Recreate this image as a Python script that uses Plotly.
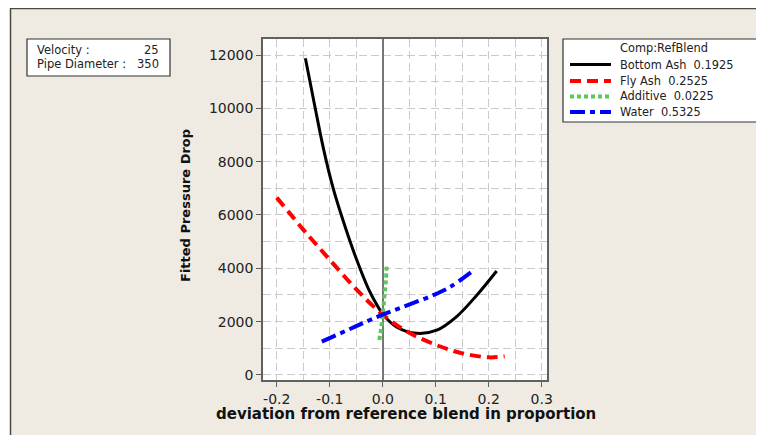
import plotly.graph_objects as go

# ---- data ----
bottom_ash_x = [-0.146, -0.128, -0.112, -0.093, -0.071, -0.049, -0.027, -0.012, 0.0, 0.026, 0.064, 0.102, 0.140, 0.177, 0.215]
bottom_ash_y = [11880, 10060, 8500, 6960, 5560, 4310, 3230, 2660, 2280, 1800, 1560, 1680, 2200, 2980, 3900]

fly_ash_x = [-0.20, -0.175, -0.15, -0.128, -0.10, -0.055, 0.0, 0.05, 0.10, 0.127, 0.15, 0.20, 0.23]
fly_ash_y = [6650, 6050, 5450, 4950, 4320, 3320, 2260, 1580, 1130, 940, 810, 660, 700]

additive_x = [-0.0065, -0.003, 0.0, 0.003, 0.006, 0.0075]
additive_y = [1310, 1750, 2280, 2900, 3550, 4180]

water_x = [-0.115, -0.05, -0.024, 0.0, 0.039, 0.089, 0.127, 0.168]
water_y = [1250, 1830, 2060, 2260, 2560, 2940, 3300, 3870]

series_names = ["Bottom Ash  0.1925", "Fly Ash  0.2525", "Additive  0.0225", "Water  0.5325"]
series_colors = ["#000000", "#FF0000", "#5CC85C", "#0000FF"]
series_dash = ["solid", "11px,6px", "4px,3px", "15px,5px,5px,5px"]
series_width = [3, 4, 4, 4]

x_ticks = [-0.2, -0.1, 0.0, 0.1, 0.2, 0.3]
x_ticklabels = ["-0.2", "-0.1", "0.0", "0.1", "0.2", "0.3"]
y_ticks = [0, 2000, 4000, 6000, 8000, 10000, 12000]

info_labels = ["Velocity :", "Pipe Diameter :"]
info_values = ["25", "350"]
legend_title = "Comp:RefBlend"

# ---- layout geometry (pixels, page coords minus 8px body margin) ----
OFF = 8
W, H = 764 - OFF, 435 - OFF
L, R, T, B = 263 - OFF, 547 - OFF, 39 - OFF, 380 - OFF
FONT = "DejaVu Sans"


def px(xp):
    # page x -> paper fraction
    return (xp - OFF - L) / (R - L)


def py(yp):
    # page y -> paper fraction
    return (B - (yp - OFF)) / (B - T)


fig = go.Figure()
xs = [bottom_ash_x, fly_ash_x, additive_x, water_x]
ys = [bottom_ash_y, fly_ash_y, additive_y, water_y]
for i in range(4):
    fig.add_trace(go.Scatter(
        x=xs[i], y=ys[i], mode="lines", name=series_names[i],
        line=dict(color=series_colors[i], width=series_width[i], dash=series_dash[i], shape="spline", smoothing=1.0),
        showlegend=False, hoverinfo="skip"))

shapes = []
# beige outer panel with border on left/top
shapes.append(dict(type="rect", xref="paper", yref="paper", x0=px(10.5), x1=px(800), y0=py(480), y1=py(8.5),
                   fillcolor="#EFEBE3", line=dict(color="#4a4a40", width=1.5), layer="below"))
# white plot area
shapes.append(dict(type="rect", xref="paper", yref="paper", x0=0, x1=1, y0=0, y1=1,
                   fillcolor="white", line=dict(width=0), layer="below"))
# info box
shapes.append(dict(type="rect", xref="paper", yref="paper", x0=px(27), x1=px(170), y0=py(76), y1=py(39),
                   fillcolor="white", line=dict(color="#333333", width=1.2)))
# legend box
shapes.append(dict(type="rect", xref="paper", yref="paper", x0=px(563), x1=px(759), y0=py(122), y1=py(39),
                   fillcolor="white", line=dict(color="#333333", width=1.2)))
row_y = [64.5, 81, 96.5, 112]
for i in range(4):
    shapes.append(dict(type="line", xref="paper", yref="paper", x0=px(570), x1=px(611), y0=py(row_y[i]), y1=py(row_y[i]),
                       line=dict(color=series_colors[i], width=series_width[i], dash=series_dash[i])))

annotations = []
LF = 11.4
annotations.append(dict(text=legend_title, xref="paper", yref="paper", x=px(618), y=py(48.5), xanchor="left",
                        yanchor="middle", showarrow=False, font=dict(family=FONT, size=LF, color="#222")))
for i in range(4):
    annotations.append(dict(text=series_names[i].replace("  ", "&nbsp;&nbsp;"), xref="paper", yref="paper", x=px(618), y=py(row_y[i]),
                            xanchor="left", yanchor="middle", showarrow=False, font=dict(family=FONT, size=LF, color="#222")))
info_y = [50, 63.5]
for i in range(2):
    annotations.append(dict(text=info_labels[i], xref="paper", yref="paper", x=px(35), y=py(info_y[i]), xanchor="left",
                            yanchor="middle", showarrow=False, font=dict(family=FONT, size=11.5, color="#222")))
    annotations.append(dict(text=info_values[i], xref="paper", yref="paper", x=px(161), y=py(info_y[i]), xanchor="right",
                            yanchor="middle", showarrow=False, font=dict(family=FONT, size=11.5, color="#222")))
# axis titles
annotations.append(dict(text="<b>deviation from reference blend in proportion</b>", xref="paper", yref="paper",
                        x=px(405.5), y=py(414), xanchor="center", yanchor="middle", showarrow=False,
                        font=dict(family=FONT, size=15, color="#111")))
annotations.append(dict(text="<b>Fitted Pressure Drop</b>", xref="paper", yref="paper", textangle=-90,
                        x=px(185), y=py(206), xanchor="center", yanchor="middle", showarrow=False,
                        font=dict(family=FONT, size=13, color="#111")))

grid_color = "#CACACA"
grid_dash = "8px,4px"
fig.update_layout(
    width=W, height=H,
    margin=dict(l=L, r=W - R, t=T, b=H - B, pad=0),
    paper_bgcolor="white", plot_bgcolor="white",
    shapes=shapes, annotations=annotations,
    font=dict(family=FONT, size=14, color="#222"),
    xaxis=dict(range=[-0.226, 0.31], tickvals=x_ticks, ticktext=x_ticklabels,
               showgrid=True, gridcolor=grid_color, griddash=grid_dash, gridwidth=1,
               minor=dict(dtick=0.05, tick0=0, showgrid=True, gridcolor=grid_color, griddash=grid_dash, gridwidth=1),
               zeroline=True, zerolinecolor="#777777", zerolinewidth=1.5,
               showline=True, linecolor="#606060", linewidth=1.5, mirror=True,
               ticks="outside", ticklen=5, tickcolor="#606060",
               tickfont=dict(family=FONT, size=14, color="#222")),
    yaxis=dict(range=[-190, 12600], tickvals=y_ticks, ticktext=[str(v) for v in y_ticks],
               showgrid=True, gridcolor=grid_color, griddash=grid_dash, gridwidth=1,
               minor=dict(dtick=1000, tick0=0, showgrid=True, gridcolor=grid_color, griddash=grid_dash, gridwidth=1),
               zeroline=False,
               showline=True, linecolor="#606060", linewidth=1.5, mirror=True,
               ticks="outside", ticklen=5, tickcolor="#606060",
               tickfont=dict(family=FONT, size=14, color="#222")),
)

fig.write_html("out.html")
